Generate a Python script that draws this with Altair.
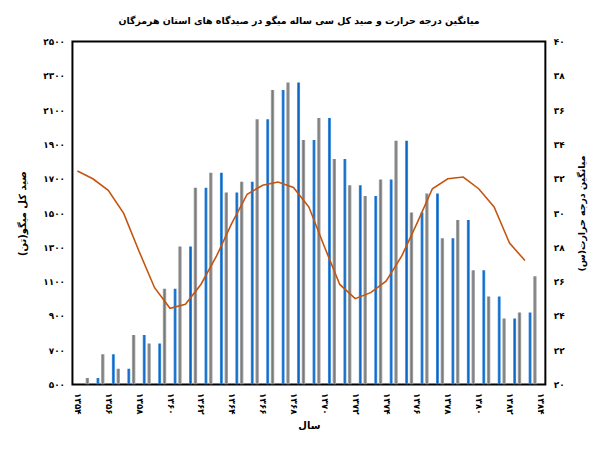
import altair as alt
import pandas as pd

# ---- data ----
years = list(range(1354, 1384))  # 30 years
gray_catch = [539, 677, 592, 789, 739, 1059, 1305, 1648, 1735, 1620,
              1683, 2047, 2218, 2261, 1926, 2055, 1816, 1662, 1600, 1696,
              1922, 1504, 1614, 1354, 1459, 1167, 1013, 885, 920, 1132]
blue_catch = [None, 539, 677, 592, 789, 739, 1059, 1305, 1648, 1735,
              1620, 1683, 2047, 2218, 2261, 1926, 2055, 1816, 1662, 1600,
              1696, 1922, 1504, 1614, 1354, 1459, 1167, 1013, 885, 920]
temperature = [32.45, 32.0, 31.33, 29.98, 27.76, 25.65, 24.45, 24.68, 25.84, 27.47,
               29.40, 31.10, 31.62, 31.81, 31.49, 30.35, 28.05, 25.84, 25.01, 25.36,
               26.03, 27.47, 29.40, 31.42, 32.0, 32.1, 31.42, 30.36, 28.25, 27.23]

# ---- tick labels ----
x_tick_values = list(range(1354, 1385, 2))
x_tick_labels = ["۱۳۵۴", "۱۳۵۶", "۱۳۵۸", "۱۳۶۰", "۱۳۶۲", "۱۳۶۴", "۱۳۶۶", "۱۳۶۸",
                 "۱۳۷۰", "۱۳۷۲", "۱۳۷۴", "۱۳۷۶", "۱۳۷۸", "۱۳۸۰", "۱۳۸۲", "۱۳۸۴"]
left_tick_values = list(range(500, 2501, 200))
left_tick_labels = ["۵۰۰", "۷۰۰", "۹۰۰", "۱۱۰۰", "۱۳۰۰", "۱۵۰۰",
                    "۱۷۰۰", "۱۹۰۰", "۲۱۰۰", "۲۳۰۰", "۲۵۰۰"]
right_tick_values = list(range(20, 41, 2))
right_tick_labels = ["۲۰", "۲۲", "۲۴", "۲۶", "۲۸", "۳۰", "۳۲", "۳۴", "۳۶", "۳۸", "۴۰"]

title_text = "میانگین درجه حرارت  و صید کل سی ساله میگو در صیدگاه های استان هرمزگان"
left_title = "صید کل میگو(تن)\u200f"
right_title = "میانگین درجه حرارت(س)\u200f"
x_title = "سال"

FONT = "DejaVu Sans"


def label_expr(values, labels):
    parts = [f"datum.value == {v} ? '{l}'" for v, l in zip(values, labels)]
    return " : ".join(parts) + " : ''"


df = pd.DataFrame({"year": years, "gray": gray_catch, "blue": blue_catch, "temp": temperature})

base = alt.Chart(df)

x_scale = alt.Scale(domain=[1354, 1384], nice=False, zero=False)
y_left_scale = alt.Scale(domain=[500, 2500], nice=False, zero=False)
y_right_scale = alt.Scale(domain=[20, 40], nice=False, zero=False)

x_axis = alt.Axis(values=x_tick_values, labelExpr=label_expr(x_tick_values, x_tick_labels),
                  labelAngle=90, labelAlign="left", labelBaseline="middle", labelPadding=8,
                  title=x_title, titlePadding=6, ticks=False, domain=False, grid=False,
                  labelFont=FONT, labelFontWeight="bold", labelFontSize=9,
                  titleFont=FONT, titleFontWeight="bold", titleFontSize=10,
                  labelColor="black", titleColor="black", labelFlush=False,
                  labelOverlap=False, labelBound=False)

left_axis = alt.Axis(values=left_tick_values, labelExpr=label_expr(left_tick_values, left_tick_labels),
                     orient="left", labelPadding=8, title=left_title, titlePadding=15,
                     ticks=False, domain=False, grid=False,
                     labelFont=FONT, labelFontWeight="bold", labelFontSize=9,
                     titleFont=FONT, titleFontWeight="bold", titleFontSize=10,
                     labelColor="black", titleColor="black", labelFlush=False,
                     labelOverlap=False, labelBound=False)

right_axis = alt.Axis(values=right_tick_values, labelExpr=label_expr(right_tick_values, right_tick_labels),
                      orient="right", labelPadding=8, title=right_title, titlePadding=22,
                      titleAngle=270, ticks=False, domain=False, grid=False,
                      labelFont=FONT, labelFontWeight="bold", labelFontSize=9,
                      titleFont=FONT, titleFontWeight="bold", titleFontSize=9.5,
                      labelColor="black", titleColor="black", labelFlush=False,
                      labelOverlap=False, labelBound=False)

blue_grad = alt.Gradient(gradient="linear", x1=0, x2=1, y1=0, y2=0,
                         stops=[alt.GradientStop(color="#4f9be6", offset=0),
                                alt.GradientStop(color="#0a62c0", offset=0.5),
                                alt.GradientStop(color="#4f9be6", offset=1)])
gray_grad = alt.Gradient(gradient="linear", x1=0, x2=1, y1=0, y2=0,
                         stops=[alt.GradientStop(color="#b0b0b0", offset=0),
                                alt.GradientStop(color="#777777", offset=0.5),
                                alt.GradientStop(color="#b0b0b0", offset=1)])

blue_bars = base.transform_filter("isValid(datum.blue)").transform_calculate(
    xpos="datum.year + 0.33"
).mark_bar(size=3, color=blue_grad, clip=True).encode(
    x=alt.X("xpos:Q", scale=x_scale, axis=x_axis),
    y=alt.Y("blue:Q", scale=y_left_scale, axis=left_axis),
    y2=alt.datum(500),
)

gray_bars = base.transform_calculate(
    xpos="datum.year + 0.645"
).mark_bar(size=3.5, color=gray_grad, clip=True).encode(
    x=alt.X("xpos:Q", scale=x_scale, axis=x_axis),
    y=alt.Y("gray:Q", scale=y_left_scale, axis=left_axis),
    y2=alt.datum(500),
)

line = base.mark_line(color="#C5540F", strokeWidth=1.6, clip=True).encode(
    x=alt.X("year:Q", scale=x_scale, axis=x_axis),
    y=alt.Y("temp:Q", scale=y_right_scale, axis=right_axis),
)

bars = alt.layer(blue_bars, gray_bars)

chart = alt.layer(bars, line).resolve_scale(y="independent").properties(
    width=477, height=346,
    autosize=alt.AutoSizeParams(type="none"),
    padding={"left": 65, "top": 32, "right": 43, "bottom": 52},
    title=alt.TitleParams(title_text, font=FONT, fontSize=9.5, fontWeight="bold",
                          anchor="middle", offset=12, dx=-10, color="black"),
).configure_view(stroke="black", strokeWidth=2).configure_axis(labelOverlap=False)

chart.save("out.html", embed_options={"renderer": "svg", "actions": False})
